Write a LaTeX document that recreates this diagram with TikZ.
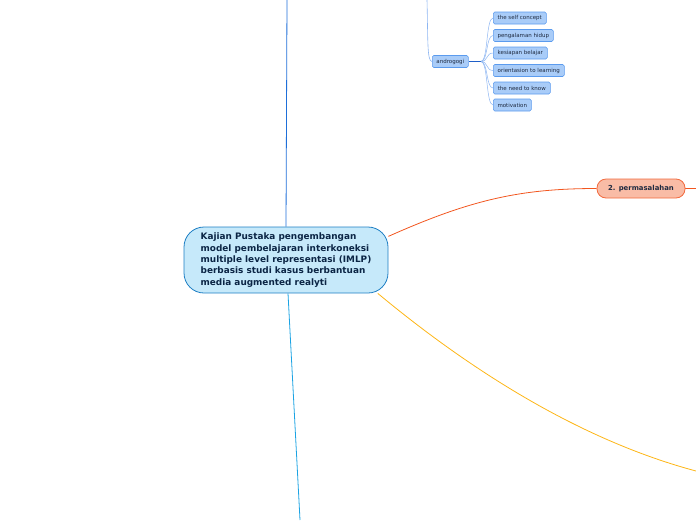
\documentclass[tikz,border=0pt]{standalone}
\usepackage{fontspec}
\setmainfont{DejaVu Sans}
\usetikzlibrary{backgrounds}
\definecolor{cfill}{HTML}{C6E9FA}
\definecolor{cdraw}{HTML}{1E7FC4}
\definecolor{ctext}{HTML}{0B2545}
\definecolor{topblue}{HTML}{1E6FD9}
\definecolor{botblue}{HTML}{1BA3E3}
\definecolor{orangeline}{HTML}{F2561F}
\definecolor{pfill}{HTML}{F9BCA6}
\definecolor{pdraw}{HTML}{F26A3E}
\definecolor{yline}{HTML}{FDB515}
\definecolor{afill}{HTML}{A9CCF8}
\definecolor{adraw}{HTML}{5B9BEE}
\definecolor{aline}{HTML}{8DB6F2}
\definecolor{adark}{HTML}{1F5FC8}
\definecolor{stext}{HTML}{1E2A40}
\tikzset{
  central/.style={draw=cdraw, line width=0.8pt, fill=cfill, rounded corners=20pt,
    minimum width=204pt, minimum height=66pt, inner sep=0pt,
    text=ctext, font=\fontsize{8.9}{11.3}\selectfont\bfseries, align=left},
  topicbox/.style={draw=pdraw, line width=0.8pt, fill=pfill, rounded corners=9pt,
    minimum width=88pt, minimum height=19pt, inner sep=0pt,
    text=stext, font=\fontsize{6.9}{7}\selectfont\bfseries},
  leafbox/.style={draw=adraw, line width=0.6pt, fill=afill, rounded corners=1.5pt,
    minimum height=12pt, inner sep=0pt, anchor=west,
    text=stext, font=\fontsize{5.5}{6}\selectfont},
  conn/.style={line width=0.8pt},
}
\begin{document}
\begin{tikzpicture}[x=1pt,y=-1pt]
\useasboundingbox (0,0) rectangle (696,520);
\node[central] (c) at (286,260) {Kajian Pustaka pengembangan\\model pembelajaran interkoneksi\\multiple level representasi (IMLP)\\berbasis studi kasus berbantuan\\media augmented realyti};
\node[topicbox] (p) at (641,188.5) {2. permasalahan};
\node[leafbox, minimum width=36pt] (a) at (432,61.5) {androgogi};
\node[leafbox, minimum width=53pt] (l1) at (493,18) {the self concept};
\node[leafbox, minimum width=60pt] (l2) at (493,35.5) {pengalaman hidup};
\node[leafbox, minimum width=54pt] (l3) at (493,53) {kesiapan belajar};
\node[leafbox, minimum width=71pt] (l4) at (493,70.5) {orientasion to learning};
\node[leafbox, minimum width=57pt] (l5) at (493,88) {the need to know};
\node[leafbox, minimum width=38pt] (l6) at (493,105) {motivation};
\coordinate (top) at (287,0);
\coordinate (bot) at (300,520);
\coordinate (atop) at (427,0);
\coordinate (pr) at (696,188.5);
\coordinate (yend) at (696,471);
\coordinate (hub) at (481,61.5);
\begin{scope}[on background layer]
\draw[conn, topblue] (top) -- (c.north);
\draw[conn, botblue] (c.south) ++(2,0) -- (bot);
\draw[conn, orangeline] (c.13) .. controls (470,200) and (520,188.5) .. (p.west);
\draw[conn, orangeline] (p.east) -- (pr);
\draw[conn, yline] (c.-20) .. controls (470,370) and (580,440) .. (yend);
\draw[line width=0.6pt, aline] (atop) .. controls (428,40) and (427,61.5) .. (a.west);
\draw[line width=1pt, adark] (a.east) -- (hub);
\foreach \l in {l1,l2,l3,l4,l5,l6}{
  \draw[line width=0.5pt, aline] (hub) .. controls (488,61.5) and (486,0 |- \l.west) .. (\l.west);
}
\end{scope}
\end{tikzpicture}
\end{document}
